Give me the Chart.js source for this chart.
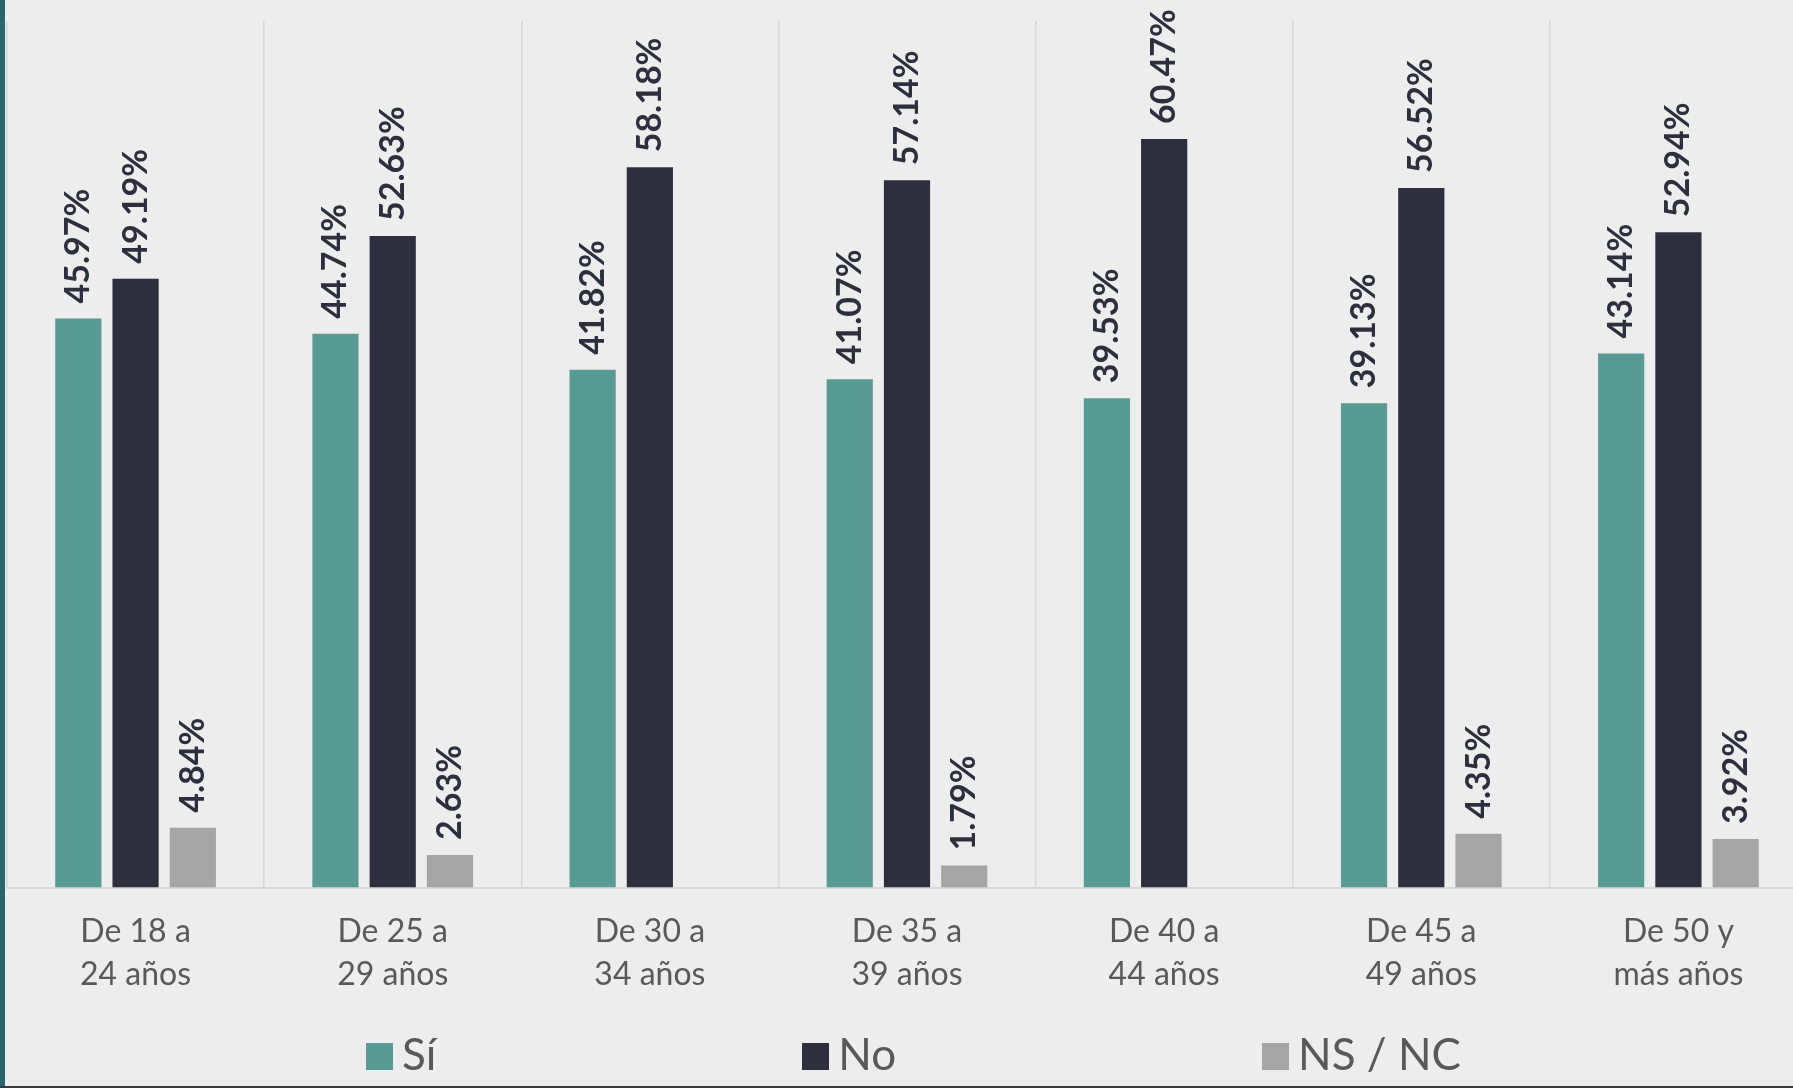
<!DOCTYPE html>
<html>
<head>
<meta charset="utf-8">
<script src="https://cdn.jsdelivr.net/npm/chart.js@4.4.1/dist/chart.umd.min.js"></script>
<style>
  html, body { margin: 0; padding: 0; background: #ededed; overflow: hidden; }
  #wrap { position: relative; width: 1793px; height: 1088px; overflow: hidden; }
  #box { position: absolute; left: 0; top: 0; width: 1808px; height: 1086px; }
  #leftEdge { position: absolute; left: 0; top: 0; width: 5px; height: 1088px; background: #2a6670; }
  #bottomEdge { position: absolute; left: 0; bottom: 0; width: 1793px; height: 2px; background: #3a3a3a; }
  #legend {
    position: absolute; left: 366px; top: 1031px;
    display: flex; gap: 366px;
    font-family: Lato, sans-serif; font-size: 44px; line-height: 44px; color: #595959;
  }
  .item { display: flex; align-items: flex-end; }
  .swatch { width: 27px; height: 27px; margin: 0 9px 5px 0; }
</style>
</head>
<body>
<div id="wrap">
  <div id="box"><canvas id="barChart" width="1808" height="1086"></canvas></div>
  <div id="legend"></div>
  <div id="leftEdge"></div>
  <div id="bottomEdge"></div>
</div>
<script>
// categories (age groups) and values
const categories = [
    ["De 18 a", "24 años"],
    ["De 25 a", "29 años"],
    ["De 30 a", "34 años"],
    ["De 35 a", "39 años"],
    ["De 40 a", "44 años"],
    ["De 45 a", "49 años"],
    ["De 50 y", "más años"]
];
const seriesNames = ["Sí", "No", "NS / NC"];
const siValues = [45.97, 44.74, 41.82, 41.07, 39.53, 39.13, 43.14];
const noValues = [49.19, 52.63, 58.18, 57.14, 60.47, 56.52, 52.94];
const nsValues = [4.84, 2.63, 0, 1.79, 0, 4.35, 3.92];

const colors = ["#589b95", "#2e2f3e", "#a5a5a5"];

// vertical value labels above each bar
const barValueLabels = {
    id: "barValueLabels",
    afterDatasetsDraw(chart) {
        const ctx = chart.ctx;
        ctx.save();
        ctx.font = "bold 34px Lato";
        ctx.fillStyle = "#2e2f3e";
        ctx.textAlign = "left";
        ctx.textBaseline = "middle";
        chart.data.datasets.forEach((ds, i) => {
            chart.getDatasetMeta(i).data.forEach((bar, j) => {
                const v = ds.data[j];
                if (!v) return; // no label for empty bars
                ctx.save();
                ctx.translate(bar.x, bar.y - 15);
                ctx.rotate(-Math.PI / 2);
                ctx.fillText(v.toFixed(2) + "%", 0, 0);
                ctx.restore();
            });
        });
        ctx.restore();
    }
};

const chart = new Chart("barChart", {
    type: "bar",
    data: {
        labels: categories,
        datasets: [
            { label: seriesNames[0], data: siValues, backgroundColor: colors[0] },
            { label: seriesNames[1], data: noValues, backgroundColor: colors[1] },
            { label: seriesNames[2], data: nsValues, backgroundColor: colors[2] }
        ]
    },
    options: {
        responsive: false,
        animation: false,
        categoryPercentage: 0.668,
        barPercentage: 0.807,
        layout: { padding: { left: 7, right: 1, top: 21, bottom: 68 } },
        plugins: {
            legend: { display: false },
            tooltip: { enabled: false }
        },
        scales: {
            x: {
                grid: { offset: true, drawTicks: false, color: "#d6d6d6", lineWidth: 1.5 },
                border: { color: "#d9d9d9", width: 2 },
                ticks: {
                    padding: 22,
                    color: "#595959",
                    font: { family: "Lato", size: 32, lineHeight: 1.35 }
                }
            },
            y: {
                display: false,
                min: 0,
                max: 70
            }
        }
    },
    plugins: [barValueLabels]
});

// legend built from the datasets
const legendBox = document.getElementById("legend");
chart.data.datasets.forEach(ds => {
    const item = document.createElement("div");
    item.className = "item";
    const sw = document.createElement("span");
    sw.className = "swatch";
    sw.style.background = ds.backgroundColor;
    const txt = document.createElement("span");
    txt.textContent = ds.label;
    item.appendChild(sw);
    item.appendChild(txt);
    legendBox.appendChild(item);
});
</script>
</body>
</html>
